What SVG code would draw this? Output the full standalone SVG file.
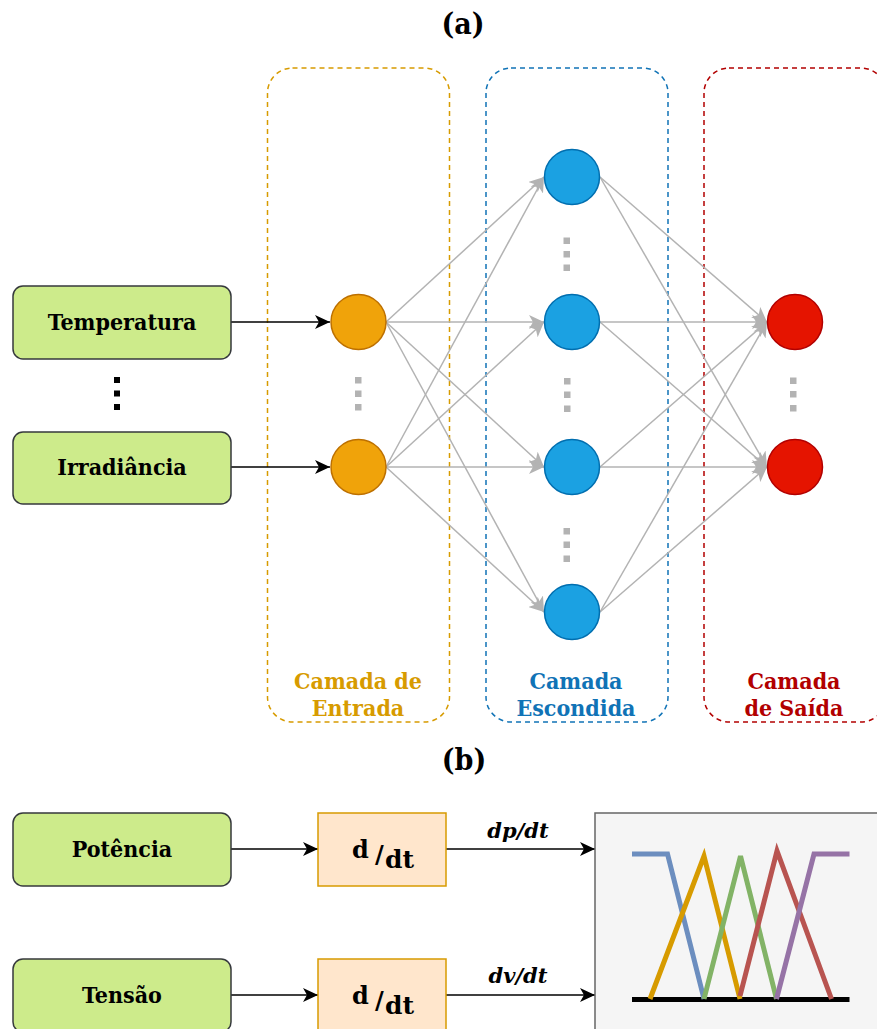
<svg xmlns="http://www.w3.org/2000/svg" width="877" height="1029" viewBox="0 0 877 1029">
  <style>
    .title { font-family: "DejaVu Serif Condensed", "DejaVu Serif", serif; font-weight: bold; font-size: 30px; fill: #000; text-anchor: middle; }
    .lbl { font-family: "DejaVu Serif Condensed", "DejaVu Serif", serif; font-weight: bold; font-size: 23px; fill: #000; text-anchor: middle; }
    .layer { font-family: "DejaVu Serif Condensed", "DejaVu Serif", serif; font-weight: bold; font-size: 23px; text-anchor: middle; }
    .math { font-family: "DejaVu Serif", serif; font-weight: bold; fill: #000; }
    .rate { font-family: "DejaVu Serif", serif; font-weight: bold; font-style: italic; font-size: 21px; fill: #000; text-anchor: middle; }
    .inbox { fill: #cdeb8b; stroke: #36393d; stroke-width: 1.5; }
    .diff { fill: #ffe6cc; stroke: #d79b00; stroke-width: 1.5; }
    .cont { fill: none; stroke-width: 1.5; stroke-dasharray: 5 4; }
    .w { stroke: #b3b3b3; stroke-width: 1.5; fill: none; marker-end: url(#grayArrow); }
    .k { stroke: #000; stroke-width: 1.5; fill: none; marker-end: url(#blackArrow); }
    .dot { fill: #b3b3b3; }
    .mf { fill: none; stroke-width: 5; stroke-linejoin: miter; }
  </style>
  <defs>
    <marker id="blackArrow" markerUnits="userSpaceOnUse" markerWidth="16" markerHeight="14" refX="15" refY="7" orient="auto">
      <path d="M0,0 L15,7 L0,14 L4,7 z" fill="#000"/>
    </marker>
    <marker id="grayArrow" markerUnits="userSpaceOnUse" markerWidth="16" markerHeight="14" refX="15" refY="7" orient="auto">
      <path d="M0,0 L15,7 L0,14 L4,7 z" fill="#b3b3b3"/>
    </marker>
  </defs>

  <!-- part (a): network -->
  <text class="title" x="463" y="34">(a)</text>

  <!-- layer containers -->
  <g id="layer-input">
    <rect class="cont" x="267.5" y="68" width="182" height="654" rx="25" stroke="#d79b00"/>
    <text class="layer" fill="#d79b00" x="358" y="689">Camada de</text>
    <text class="layer" fill="#d79b00" x="358" y="716">Entrada</text>
  </g>
  <g id="layer-hidden">
    <rect class="cont" x="486" y="68" width="182" height="654" rx="25" stroke="#1073b6"/>
    <text class="layer" fill="#1073b6" x="576" y="689">Camada</text>
    <text class="layer" fill="#1073b6" x="576" y="716">Escondida</text>
  </g>
  <g id="layer-output">
    <rect class="cont" x="704" y="68" width="182" height="654" rx="25" stroke="#b20000"/>
    <text class="layer" fill="#b20000" x="794" y="689">Camada</text>
    <text class="layer" fill="#b20000" x="794" y="716">de Saída</text>
  </g>

  <!-- connectors -->
  <g id="connectors">
    <line class="k" x1="231" y1="322" x2="330" y2="322"/>
    <line class="k" x1="231" y1="467" x2="330" y2="467"/>

    <line class="w" x1="386" y1="322" x2="544" y2="177"/>
    <line class="w" x1="386" y1="322" x2="544" y2="322"/>
    <line class="w" x1="386" y1="322" x2="544" y2="467"/>
    <line class="w" x1="386" y1="322" x2="544" y2="612"/>
    <line class="w" x1="386" y1="467" x2="544" y2="177"/>
    <line class="w" x1="386" y1="467" x2="544" y2="322"/>
    <line class="w" x1="386" y1="467" x2="544" y2="467"/>
    <line class="w" x1="386" y1="467" x2="544" y2="612"/>

    <line class="w" x1="600" y1="177" x2="767" y2="322"/>
    <line class="w" x1="600" y1="177" x2="767" y2="467"/>
    <line class="w" x1="600" y1="322" x2="767" y2="322"/>
    <line class="w" x1="600" y1="322" x2="767" y2="467"/>
    <line class="w" x1="600" y1="467" x2="767" y2="322"/>
    <line class="w" x1="600" y1="467" x2="767" y2="467"/>
    <line class="w" x1="600" y1="612" x2="767" y2="322"/>
    <line class="w" x1="600" y1="612" x2="767" y2="467"/>

    <line class="k" x1="231" y1="849" x2="318" y2="849"/>
    <line class="k" x1="231" y1="995" x2="318" y2="995"/>
    <line class="k" x1="446" y1="849" x2="595" y2="849"/>
    <line class="k" x1="446" y1="995" x2="595" y2="995"/>
  </g>

  <!-- inputs -->
  <g id="in-temperatura">
    <rect class="inbox" x="13" y="286" width="218" height="73" rx="10"/>
    <text class="lbl" x="122" y="330">Temperatura</text>
  </g>
  <g id="in-dots">
    <rect x="114" y="377" width="6" height="6" fill="#000"/>
    <rect x="114" y="390.5" width="6" height="6" fill="#000"/>
    <rect x="114" y="404" width="6" height="6" fill="#000"/>
  </g>
  <g id="in-irradiancia">
    <rect class="inbox" x="13" y="432" width="218" height="72" rx="10"/>
    <text class="lbl" x="122" y="475">Irradiância</text>
  </g>

  <!-- input neurons -->
  <g id="n-in1"><circle cx="358.5" cy="322" r="27.5" fill="#f0a30a" stroke="#bd7000" stroke-width="1.5"/></g>
  <g id="n-in2"><circle cx="358.5" cy="467" r="27.5" fill="#f0a30a" stroke="#bd7000" stroke-width="1.5"/></g>
  <g id="n-in-dots">
    <rect class="dot" x="355" y="377" width="6.5" height="6.5"/>
    <rect class="dot" x="355" y="390.5" width="6.5" height="6.5"/>
    <rect class="dot" x="355" y="404" width="6.5" height="6.5"/>
  </g>

  <!-- hidden neurons -->
  <g id="n-h1"><circle cx="572" cy="177" r="27.5" fill="#1ba1e2" stroke="#006eaf" stroke-width="1.5"/></g>
  <g id="n-h2"><circle cx="572" cy="322" r="27.5" fill="#1ba1e2" stroke="#006eaf" stroke-width="1.5"/></g>
  <g id="n-h3"><circle cx="572" cy="467" r="27.5" fill="#1ba1e2" stroke="#006eaf" stroke-width="1.5"/></g>
  <g id="n-h4"><circle cx="572" cy="612" r="27.5" fill="#1ba1e2" stroke="#006eaf" stroke-width="1.5"/></g>
  <g id="n-h-dots">
    <rect class="dot" x="563.5" y="237.5" width="6.5" height="6.5"/>
    <rect class="dot" x="563.5" y="251" width="6.5" height="6.5"/>
    <rect class="dot" x="563.5" y="264.5" width="6.5" height="6.5"/>
    <rect class="dot" x="564" y="378" width="6.5" height="6.5"/>
    <rect class="dot" x="564" y="391.5" width="6.5" height="6.5"/>
    <rect class="dot" x="564" y="405.5" width="6.5" height="6.5"/>
    <rect class="dot" x="563.5" y="528" width="6.5" height="6.5"/>
    <rect class="dot" x="563.5" y="541.5" width="6.5" height="6.5"/>
    <rect class="dot" x="563.5" y="555.5" width="6.5" height="6.5"/>
  </g>

  <!-- output neurons -->
  <g id="n-out1"><circle cx="795" cy="322" r="27.5" fill="#e51400" stroke="#b20000" stroke-width="1.5"/></g>
  <g id="n-out2"><circle cx="795" cy="467" r="27.5" fill="#e51400" stroke="#b20000" stroke-width="1.5"/></g>
  <g id="n-out-dots">
    <rect class="dot" x="790" y="377.5" width="6.5" height="6.5"/>
    <rect class="dot" x="790" y="391" width="6.5" height="6.5"/>
    <rect class="dot" x="790" y="405" width="6.5" height="6.5"/>
  </g>

  <!-- part (b): derivative inputs and membership functions -->
  <text class="title" x="464" y="770">(b)</text>

  <g id="in-potencia">
    <rect class="inbox" x="13" y="813" width="218" height="73" rx="10"/>
    <text class="lbl" x="122" y="857">Potência</text>
  </g>
  <g id="in-tensao">
    <rect class="inbox" x="13" y="959" width="218" height="73" rx="10"/>
    <text class="lbl" x="122" y="1003">Tensão</text>
  </g>

  <g id="diff-p">
    <rect class="diff" x="318" y="813" width="128" height="73"/>
    <text class="math" x="352" y="858" font-size="24">d</text>
    <text class="math" x="375" y="863" font-size="24" font-weight="normal">/</text>
    <text class="math" x="385" y="868" font-size="25">dt</text>
  </g>
  <g id="diff-v">
    <rect class="diff" x="318" y="959" width="128" height="73"/>
    <text class="math" x="352" y="1004" font-size="24">d</text>
    <text class="math" x="375" y="1009" font-size="24" font-weight="normal">/</text>
    <text class="math" x="385" y="1014" font-size="25">dt</text>
  </g>

  <text class="rate" x="518" y="838">dp/dt</text>
  <text class="rate" x="518" y="983">dv/dt</text>

  <g id="fuzzy-sets">
    <rect x="595" y="813" width="290" height="230" fill="#f5f5f5" stroke="#666666" stroke-width="1.5"/>
    <line x1="632" y1="999.5" x2="849.5" y2="999.5" stroke="#000" stroke-width="5"/>
    <polyline class="mf" stroke="#6c8ebf" points="632,854 667.5,854 704,999"/>
    <polyline class="mf" stroke="#d79b00" points="650,999 704,856 740,999"/>
    <polyline class="mf" stroke="#82b366" points="704,999 740.5,856 776.5,999"/>
    <polyline class="mf" stroke="#b85450" points="740,996 777,851 831.5,999"/>
    <polyline class="mf" stroke="#9673a6" points="776.5,999 814,854 849.5,854"/>
  </g>
</svg>
